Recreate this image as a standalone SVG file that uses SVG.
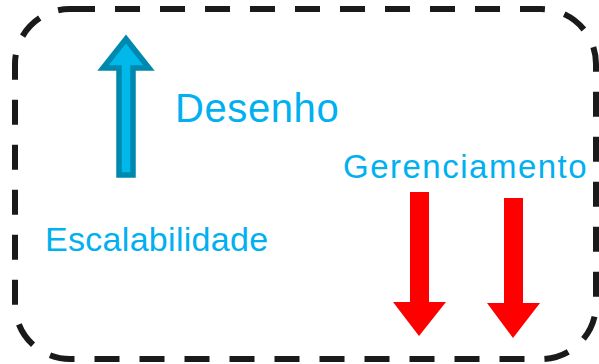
<svg xmlns="http://www.w3.org/2000/svg" width="599" height="364" viewBox="0 0 599 364">
<style>
.lbl{font-family:"Liberation Sans",Arial,sans-serif;fill:#00B0F0}
.red{fill:#FF0000}
</style>
<rect width="599" height="364" fill="#ffffff"/>
<g id="frame">
<rect x="15" y="9" width="581" height="350" rx="55" ry="55" fill="none" stroke="#1a1a1a" stroke-width="6" stroke-dasharray="25 20"/>
</g>
<g id="connectors">
<polygon id="up-arrow" points="119,175 133,175 133,68 149,68 126,39 103,68 119,68" fill="#00B8EA" stroke="#0089AE" stroke-width="5.5" stroke-linejoin="miter"/>
<polygon id="down-arrow-1" class="red" points="410,192 429,192 429,302 446,302 419,336 393,302 410,302"/>
<polygon id="down-arrow-2" class="red" points="504,198 523,198 523,303 540,303 513,338 487,303 504,303"/>
</g>
<g id="desenho"><text class="lbl" x="175" y="122" font-size="40" letter-spacing="0.6">Desenho</text></g>
<g id="gerenciamento"><text class="lbl" x="343" y="178" font-size="33" letter-spacing="1.5">Gerenciamento</text></g>
<g id="escalabilidade"><text class="lbl" x="45" y="251" font-size="34" letter-spacing="0.3">Escalabilidade</text></g>
</svg>
